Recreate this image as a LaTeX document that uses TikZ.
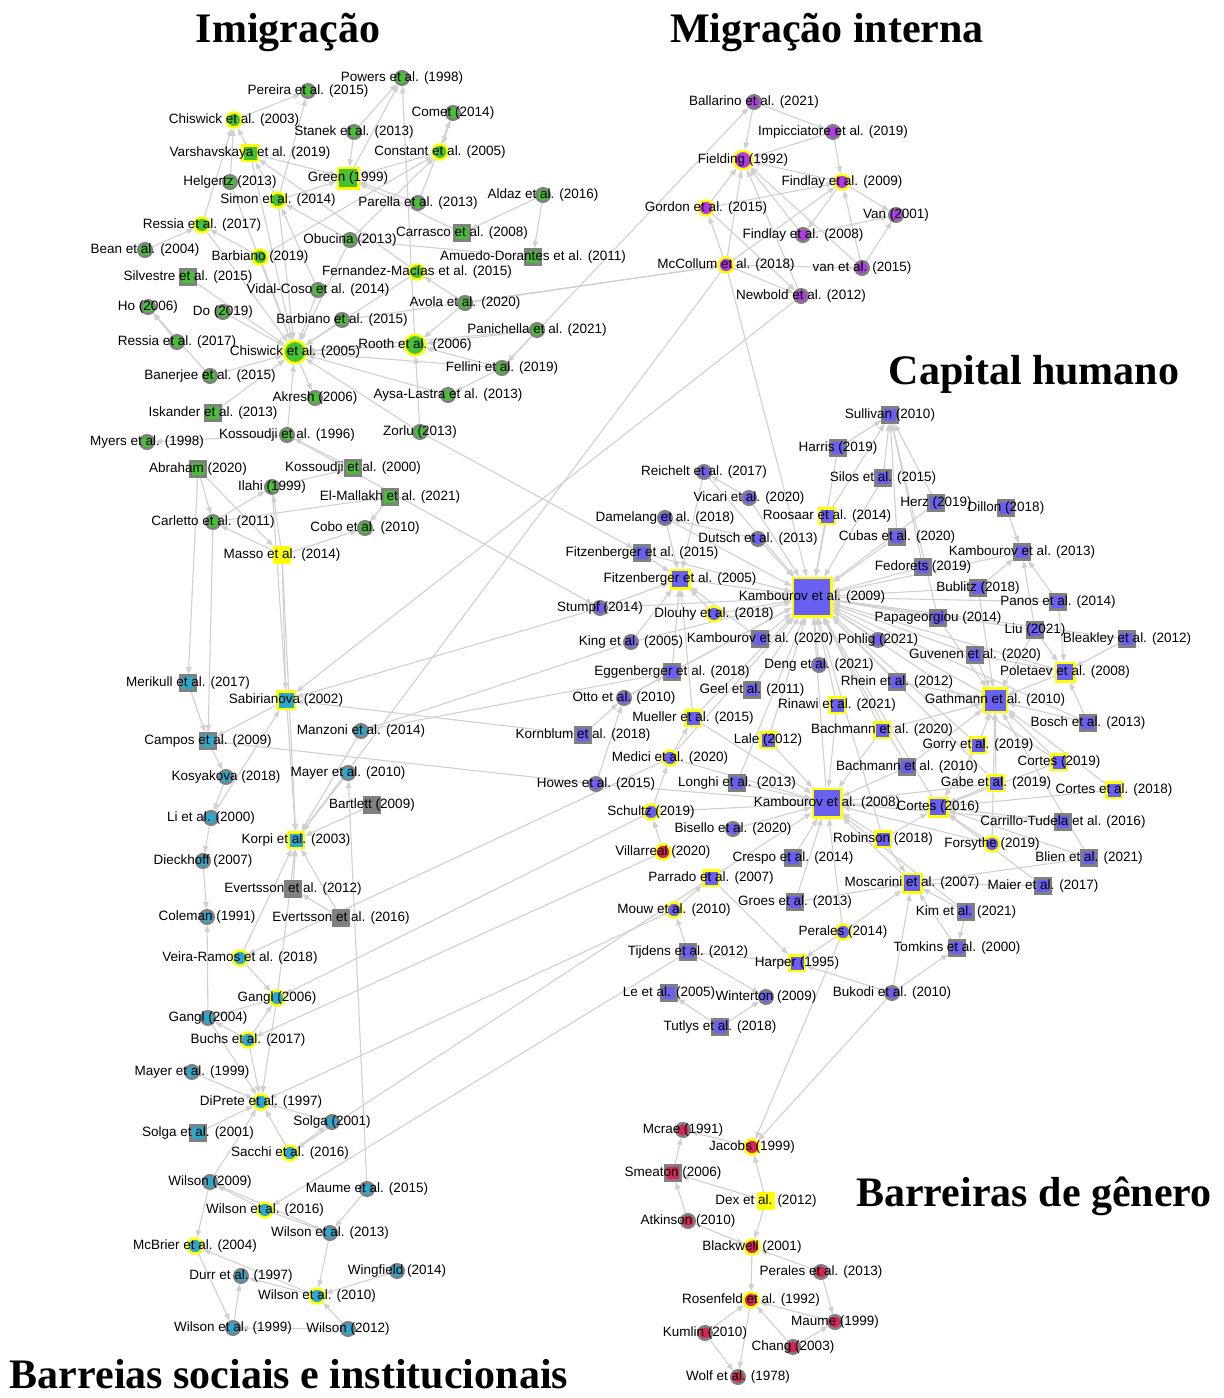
\documentclass[tikz,border=0pt]{standalone}
\usepackage{fontspec}
\newfontfamily\lblfont{Liberation Sans}
\newfontfamily\ttlfont{Liberation Serif}
\usetikzlibrary{arrows.meta}
\pgfdeclarelayer{bg}\pgfdeclarelayer{fg}\pgfsetlayers{bg,main,fg}
\definecolor{cgreen}{RGB}{72,192,52}
\definecolor{cpurp}{RGB}{178,58,230}
\definecolor{cblue}{RGB}{105,95,240}
\definecolor{ccrim}{RGB}{215,35,85}
\definecolor{ccyan}{RGB}{45,168,205}
\definecolor{bgray}{RGB}{128,128,128}
\definecolor{byel}{RGB}{255,255,0}
\definecolor{edgec}{RGB}{208,208,208}
\tikzset{
  mkfill/.style={},
  mk/.style={inner sep=0pt, line width=1.25pt, mkfill},
  sz/.style={minimum size=#1},
  cg/.style={circle, draw=bgray, minimum size=6.75pt},
  cy/.style={circle, draw=byel, minimum size=7.5pt},
  sg/.style={rectangle, draw=bgray, minimum size=7.5pt},
  sy/.style={rectangle, draw=byel, minimum size=7.75pt},
  lbl/.style={inner sep=0pt, font=\lblfont\fontsize{6.75}{8}\selectfont, text=black},
  ttl/.style={inner sep=0pt, anchor=base, font=\ttlfont\bfseries\fontsize{21}{25}\selectfont},
  edge/.style={draw=edgec, line width=0.55pt, -{Triangle[length=3.6pt,width=2.7pt]}}
}
\newcommand\nd[5]{\node[mk,#4] (#1) at (#2,#3) {};\begin{pgfonlayer}{fg}\node[lbl] (#1-l) at (#2,#3) {#5};\end{pgfonlayer}}
\begin{document}
\begin{tikzpicture}[x=0.5pt,y=-0.5pt]
\useasboundingbox (0,0) rectangle (1224,1398);
\begin{pgfonlayer}{bg}\fill[white] (0,0) rectangle (1224,1398);\end{pgfonlayer}
% titles
\node[ttl] (t1) at (288,42) {Imigração};
\node[ttl] (t2) at (827,42) {Migração interna};
\node[ttl] (t3) at (1034,384) {Capital humano};
\node[ttl] (t4) at (1034,1206) {Barreiras de gênero};
\node[ttl] (t5) at (289,1388) {Barreias sociais e institucionais};
% Imigracao
\begin{scope}[mkfill/.style={fill=cgreen}]
\nd{powers}{402}{78}{cg}{Powers et al. (1998)}
\nd{pereira}{308}{91}{cg}{Pereira et al. (2015)}
\nd{chis03}{234}{120}{cy}{Chiswick et al. (2003)}
\nd{stanek}{354}{132}{cg}{Stanek et al. (2013)}
\nd{comet}{453}{113}{cg}{Comet (2014)}
\nd{varsh}{250}{153}{sy}{Varshavskaya et al. (2019)}
\nd{constant}{440}{152}{cy}{Constant et al. (2005)}
\nd{helgertz}{230}{182}{cg}{Helgertz (2013)}
\nd{green}{348}{178}{sy,sz=10.25pt}{Green (1999)}
\nd{simon}{278}{200}{cy}{Simon et al. (2014)}
\nd{parella}{418}{203}{cg}{Parella et al. (2013)}
\nd{aldaz}{543}{195}{cg}{Aldaz et al. (2016)}
\nd{ressia}{202}{225}{cy}{Ressia et al. (2017)}
\nd{obucina}{350}{240}{cg}{Obucina (2013)}
\nd{carrasco}{462}{233}{sg}{Carrasco et al. (2008)}
\nd{bean}{145}{250}{cg}{Bean et al. (2004)}
\nd{barb19}{260}{257}{cy}{Barbiano (2019)}
\nd{amuedo}{533}{257}{sg}{Amuedo-Dorantes et al. (2011)}
\nd{silvestre}{188}{277}{sg}{Silvestre et al. (2015)}
\nd{fernandez}{417}{272}{cy}{Fernandez-Macías et al. (2015)}
\nd{vidal}{318}{290}{cg}{Vidal-Coso et al. (2014)}
\nd{ho}{148}{307}{cg}{Ho (2006)}
\nd{do}{223}{312}{cg}{Do (2019)}
\nd{avola}{465}{303}{cg}{Avola et al. (2020)}
\nd{barb15}{342}{320}{cg}{Barbiano et al. (2015)}
\nd{panichella}{537}{330}{cg}{Panichella et al. (2021)}
\nd{ressiab}{177}{342}{cg}{Ressia et al. (2017)}
\nd{chis05}{295}{352}{cy,sz=11.25pt}{Chiswick et al. (2005)}
\nd{rooth}{415}{345}{cy,sz=10.25pt}{Rooth et al. (2006)}
\nd{banerjee}{210}{376}{cg}{Banerjee et al. (2015)}
\nd{fellini}{502}{368}{cg}{Fellini et al. (2019)}
\nd{akresh}{315}{398}{cg}{Akresh (2006)}
\nd{aysa}{448}{395}{cg}{Aysa-Lastra et al. (2013)}
\nd{iskander}{213}{413}{sg}{Iskander et al. (2013)}
\nd{zorlu}{420}{432}{cg}{Zorlu (2013)}
\nd{myers}{147}{442}{cg}{Myers et al. (1998)}
\nd{koss96}{287}{435}{cg}{Kossoudji et al. (1996)}
\nd{abraham}{198}{469}{sg}{Abraham (2020)}
\nd{koss00}{353}{468}{sg}{Kossoudji et al. (2000)}
\nd{ilahi}{272}{487}{cg}{Ilahi (1999)}
\nd{elmallakh}{390}{497}{sg}{El-Mallakh et al. (2021)}
\nd{carletto}{213}{522}{cg}{Carletto et al. (2011)}
\nd{cobo}{365}{528}{cg}{Cobo et al. (2010)}
\nd{masso}{282}{555}{sy,fill=byel}{Masso et al. (2014)}
\end{scope}
% Migracao interna
\begin{scope}[mkfill/.style={fill=cpurp}]
\nd{ballarino}{754}{102}{cg}{Ballarino et al. (2021)}
\nd{impic}{833}{132}{cg}{Impicciatore et al. (2019)}
\nd{fielding}{743}{160}{cy,sz=9.25pt}{Fielding (1992)}
\nd{findlay09}{842}{182}{cy}{Findlay et al. (2009)}
\nd{gordon}{706}{208}{cy}{Gordon et al. (2015)}
\nd{van01}{896}{215}{cg}{Van (2001)}
\nd{findlay08}{803}{235}{cg}{Findlay et al. (2008)}
\nd{mccollum}{726}{265}{cy}{McCollum et al. (2018)}
\nd{vanet}{862}{268}{cg}{van et al. (2015)}
\nd{newbold}{801}{296}{cg}{Newbold et al. (2012)}
\end{scope}
% Capital humano
\begin{scope}[mkfill/.style={fill=cblue}]
\nd{sullivan}{890}{415}{sg}{Sullivan (2010)}
\nd{harris}{838}{448}{sg}{Harris (2019)}
\nd{reichelt}{704}{472}{cg}{Reichelt et al. (2017)}
\nd{silos}{883}{478}{sg}{Silos et al. (2015)}
\nd{vicari}{749}{498}{cg}{Vicari et al. (2020)}
\nd{herz}{936}{503}{sg}{Herz (2019)}
\nd{dillon}{1006}{508}{sg}{Dillon (2018)}
\nd{roosaar}{827}{516}{sy}{Roosaar et al. (2014)}
\nd{damelang}{665}{518}{cg}{Damelang et al. (2018)}
\nd{dutsch}{758}{539}{cg}{Dutsch et al. (2013)}
\nd{cubas}{897}{537}{sg}{Cubas et al. (2020)}
\nd{kamb13}{1022}{552}{sg}{Kambourov et al. (2013)}
\nd{fitz15}{642}{553}{sg}{Fitzenberger et al. (2015)}
\nd{fedorets}{923}{567}{sg}{Fedorets (2019)}
\nd{fitz05}{680}{579}{sy,sz=9.25pt}{Fitzenberger et al. (2005)}
\nd{kamb09}{812}{597}{sy,sz=19.25pt}{Kambourov et al. (2009)}
\nd{bublitz}{978}{588}{sg}{Bublitz (2018)}
\nd{panos}{1058}{602}{sg}{Panos et al. (2014)}
\nd{stumpf}{600}{608}{cg}{Stumpf (2014)}
\nd{dlouhy}{714}{614}{cy}{Dlouhy et al. (2018)}
\nd{papa}{938}{618}{sg}{Papageorgiou (2014)}
\nd{liu}{1035}{630}{sg}{Liu (2021)}
\nd{bleakley}{1127}{639}{sg}{Bleakley et al. (2012)}
\nd{king}{631}{642}{cg}{King et al. (2005)}
\nd{kamb20}{760}{639}{sg}{Kambourov et al. (2020)}
\nd{pohlig}{878}{640}{cg}{Pohlig (2021)}
\nd{guvenen}{975}{655}{sg}{Guvenen et al. (2020)}
\nd{eggen}{672}{672}{sg}{Eggenberger et al. (2018)}
\nd{deng}{819}{665}{cg}{Deng et al. (2021)}
\nd{poletaev}{1065}{672}{sy,sz=9.25pt}{Poletaev et al. (2008)}
\nd{rhein}{897}{682}{sg}{Rhein et al. (2012)}
\nd{geel}{752}{690}{sg}{Geel et al. (2011)}
\nd{otto}{624}{698}{cg}{Otto et al. (2010)}
\nd{gathmann}{995}{700}{sy,sz=11.75pt}{Gathmann et al. (2010)}
\nd{rinawi}{837}{705}{sy}{Rinawi et al. (2021)}
\nd{mueller}{693}{718}{sy}{Mueller et al. (2015)}
\nd{bosch}{1088}{723}{sg}{Bosch et al. (2013)}
\nd{kornblum}{583}{735}{sg}{Kornblum et al. (2018)}
\nd{bach20}{882}{730}{sy}{Bachmann et al. (2020)}
\nd{lale}{768}{740}{sy}{Lale (2012)}
\nd{gorry}{978}{745}{sy}{Gorry et al. (2019)}
\nd{medici}{670}{758}{cy}{Medici et al. (2020)}
\nd{bach10}{907}{767}{sg}{Bachmann et al. (2010)}
\nd{cortes19}{1059}{762}{sy}{Cortes (2019)}
\nd{howes}{596}{784}{cg}{Howes et al. (2015)}
\nd{longhi}{737}{783}{sg}{Longhi et al. (2013)}
\nd{gabe}{996}{783}{sy}{Gabe et al. (2019)}
\nd{kamb08}{827}{803}{sy,sz=14.25pt}{Kambourov et al. (2008)}
\nd{cortes16}{938}{807}{sy,sz=9.25pt}{Cortes (2016)}
\nd{cortes18}{1114}{790}{sy}{Cortes et al. (2018)}
\nd{schultz}{651}{812}{cy}{Schultz (2019)}
\nd{carrillo}{1063}{822}{sg}{Carrillo-Tudela et al. (2016)}
\nd{bisello}{733}{829}{cg}{Bisello et al. (2020)}
\nd{robinson}{883}{839}{sy}{Robinson (2018)}
\nd{forsythe}{992}{844}{cy}{Forsythe (2019)}
\nd{villarreal}{663}{852}{cy,fill=ccrim}{Villarreal (2020)}
\nd{crespo}{793}{858}{sg}{Crespo et al. (2014)}
\nd{blien}{1089}{858}{sg}{Blien et al. (2021)}
\nd{parrado}{711}{878}{sy}{Parrado et al. (2007)}
\nd{moscarini}{912}{883}{sy,sz=9.25pt}{Moscarini et al. (2007)}
\nd{maier}{1043}{886}{sg}{Maier et al. (2017)}
\nd{groes}{795}{902}{sg}{Groes et al. (2013)}
\nd{mouw}{674}{910}{cy}{Mouw et al. (2010)}
\nd{kim}{966}{912}{sg}{Kim et al. (2021)}
\nd{perales14}{843}{932}{cy}{Perales (2014)}
\nd{tomkins}{957}{948}{sg}{Tomkins et al. (2000)}
\nd{tijdens}{688}{952}{sg}{Tijdens et al. (2012)}
\nd{harper}{797}{963}{sy}{Harper (1995)}
\nd{le}{669}{993}{sg}{Le et al. (2005)}
\nd{winterton}{766}{997}{cg}{Winterton (2009)}
\nd{bukodi}{892}{993}{cg}{Bukodi et al. (2010)}
\nd{tutlys}{720}{1027}{sg}{Tutlys et al. (2018)}
\end{scope}
% Barreiras de genero
\begin{scope}[mkfill/.style={fill=ccrim}]
\nd{mcrae}{683}{1130}{cg}{Mcrae (1991)}
\nd{jacobs}{752}{1147}{cy}{Jacobs (1999)}
\nd{smeaton}{673}{1173}{sg}{Smeaton (2006)}
\nd{dex}{766}{1201}{sy,fill=byel}{Dex et al. (2012)}
\nd{atkinson}{688}{1221}{cg}{Atkinson (2010)}
\nd{blackwell}{752}{1247}{cy}{Blackwell (2001)}
\nd{perales13}{821}{1272}{cg}{Perales et al. (2013)}
\nd{rosenfeld}{751}{1300}{cy}{Rosenfeld et al. (1992)}
\nd{maume99}{835}{1322}{cg}{Maume (1999)}
\nd{kumlin}{705}{1333}{cg}{Kumlin (2010)}
\nd{chang}{793}{1347}{cg}{Chang (2003)}
\nd{wolf}{738}{1377}{cg}{Wolf et al. (1978)}
\end{scope}
% Barreiras sociais
\begin{scope}[mkfill/.style={fill=ccyan}]
\nd{merikull}{188}{683}{sg}{Merikull et al. (2017)}
\nd{sabir}{286}{700}{sy,sz=8.75pt}{Sabirianova (2002)}
\nd{manzoni}{361}{731}{cg}{Manzoni et al. (2014)}
\nd{campos}{208}{741}{sg}{Campos et al. (2009)}
\nd{kosyakova}{226}{777}{cg}{Kosyakova (2018)}
\nd{mayer10}{348}{773}{cg}{Mayer et al. (2010)}
\nd{bartlett}{372}{805}{sg,fill=bgray}{Bartlett (2009)}
\nd{li}{211}{818}{cg}{Li et al. (2000)}
\nd{korpi}{296}{840}{sy}{Korpi et al. (2003)}
\nd{dieckhoff}{203}{861}{cg}{Dieckhoff (2007)}
\nd{evert12}{293}{889}{sg,fill=bgray}{Evertsson et al. (2012)}
\nd{coleman}{207}{917}{cg}{Coleman (1991)}
\nd{evert16}{341}{918}{sg,fill=bgray}{Evertsson et al. (2016)}
\nd{veira}{240}{958}{cy}{Veira-Ramos et al. (2018)}
\nd{gangl06}{277}{998}{cy}{Gangl (2006)}
\nd{gangl04}{208}{1018}{cg}{Gangl (2004)}
\nd{buchs}{248}{1040}{cy}{Buchs et al. (2017)}
\nd{mayer99}{192}{1072}{cg}{Mayer et al. (1999)}
\nd{dipreete}{261}{1102}{cy}{DiPrete et al. (1997)}
\nd{solga}{332}{1122}{cg}{Solga (2001)}
\nd{solgaet}{198}{1133}{sg}{Solga et al. (2001)}
\nd{sacchi}{290}{1153}{cy}{Sacchi et al. (2016)}
\nd{wilson09}{210}{1182}{cg}{Wilson (2009)}
\nd{maume15}{367}{1189}{cg}{Maume et al. (2015)}
\nd{wilson16}{265}{1210}{cy}{Wilson et al. (2016)}
\nd{wilson13}{330}{1233}{cg}{Wilson et al. (2013)}
\nd{mcbrier}{195}{1246}{cy}{McBrier et al. (2004)}
\nd{wingfield}{397}{1271}{cg}{Wingfield (2014)}
\nd{durr}{241}{1276}{cg}{Durr et al. (1997)}
\nd{wilson10}{317}{1296}{cy}{Wilson et al. (2010)}
\nd{wilson99}{233}{1328}{cg}{Wilson et al. (1999)}
\nd{wilson12}{348}{1329}{cg}{Wilson (2012)}
\end{scope}
% edges
\begin{pgfonlayer}{bg}
\foreach \a/\b in {chis03/pereira,simon/pereira,stanek/powers,green/powers,rooth/powers,comet/constant,parella/comet,constant/green,stanek/green,varsh/green,varsh/chis03,helgertz/chis03,ressia/chis03,simon/varsh,simon/green,parella/green,obucina/constant,barb19/constant,aldaz/carrasco,aldaz/amuedo,carrasco/green,panichella/chis05,simon/chis05,varsh/chis05,ressia/chis05,silvestre/chis05,do/chis05,barb15/chis05,vidal/chis05,fernandez/chis05,rooth/chis05,banerjee/chis05,fellini/chis05,aysa/chis05,zorlu/chis05,koss96/chis05,obucina/chis05,barb19/chis05,helgertz/chis05,chis05/akresh,fellini/rooth,panichella/rooth,avola/rooth,zorlu/rooth,panichella/fellini,fellini/aysa,banerjee/ho,ressiab/ho,barb19/ressia,bean/ressia,iskander/chis05,koss96/myers,koss00/koss96,abraham/carletto,abraham/masso,carletto/ilahi,carletto/elmallakh,masso/carletto,masso/cobo,masso/ilahi,elmallakh/cobo,ilahi/koss00,vidal/simon,fernandez/varsh,obucina/simon,avola/fernandez,amuedo/obucina}
  {\draw[edge] (\a) -- (\b);}
\foreach \a/\b in {fellini/ballarino,barb15/mccollum,avola/mccollum,zorlu/fitz15,koss96/stumpf,mccollum/kamb09,mccollum/korpi,newbold/sabir,masso/sabir,masso/korpi,carletto/campos,abraham/merikull,ilahi/korpi,
  ballarino/fielding,ballarino/impic,impic/fielding,impic/findlay09,findlay09/fielding,findlay09/van01,findlay09/findlay08,gordon/fielding,gordon/findlay09,gordon/newbold,mccollum/gordon,mccollum/fielding,mccollum/findlay09,findlay08/fielding,findlay08/van01,newbold/fielding,vanet/fielding,vanet/findlay09,vanet/van01,mccollum/vanet,mccollum/newbold}
  {\draw[edge] (\a) -- (\b);}
\foreach \a in {reichelt,vicari,damelang,dutsch,roosaar,cubas,fedorets,fitz15,fitz05,bublitz,panos,dlouhy,papa,liu,king,kamb20,pohlig,guvenen,eggen,deng,poletaev,rhein,geel,gathmann,rinawi,mueller,bach20,lale,gorry,bach10,longhi,kamb08,cortes16,kamb13,harris,silos,herz,stumpf,otto,medici,bleakley,bosch,gabe,robinson,cortes19}
  {\draw[edge] (\a) -- (kamb09);}
\foreach \a in {longhi,bisello,crespo,groes,parrado,robinson,cortes16,gabe,forsythe,schultz,medici,lale,bach10,kim,carrillo,moscarini,mueller,rinawi,bach20,howes,perales14}
  {\draw[edge] (\a) -- (kamb08);}
\foreach \a in {poletaev,gorry,gabe,bosch,cortes19,rhein,guvenen,bach20,bach10,liu,cortes18,forsythe,blien,papa,bublitz}
  {\draw[edge] (\a) -- (gathmann);}
\foreach \a/\b in {panos/poletaev,bleakley/poletaev,liu/poletaev,bosch/poletaev,guvenen/poletaev,groes/moscarini,maier/moscarini,kim/moscarini,robinson/moscarini,blien/moscarini,tomkins/moscarini,perales14/moscarini,gabe/cortes16,cortes19/cortes16,cortes18/cortes16,carrillo/cortes16,forsythe/cortes16,robinson/cortes16,blien/cortes16,maier/cortes16,gorry/cortes16,harris/sullivan,silos/sullivan,roosaar/sullivan,cubas/sullivan,papa/sullivan,fedorets/sullivan,herz/sullivan,stumpf/fitz05,dlouhy/fitz05,eggen/fitz05,king/fitz05,fitz15/fitz05,kamb20/fitz05,damelang/fitz05,mueller/fitz05,reichelt/fitz05,dillon/kamb13,bublitz/kamb13,panos/kamb13,liu/kamb13,vicari/reichelt,dutsch/damelang,parrado/harper,tijdens/harper,perales14/harper,bukodi/harper,tijdens/mouw,tutlys/le,tutlys/winterton,tijdens/winterton,bukodi/tomkins,kim/tomkins,mouw/parrado,medici/mueller,schultz/medici,villarreal/schultz,howes/otto,kornblum/otto,otto/eggen,bukodi/moscarini}
  {\draw[edge] (\a) -- (\b);}
\foreach \a/\b in {stumpf/sabir,king/manzoni,eggen/manzoni,kornblum/sabir,howes/campos,schultz/gangl06,villarreal/buchs,medici/veira,mouw/dipreete,parrado/sacchi,tijdens/wilson16,perales14/jacobs,bukodi/jacobs,
  jacobs/mcrae,dex/smeaton,dex/jacobs,dex/blackwell,atkinson/smeaton,smeaton/mcrae,atkinson/blackwell,perales13/blackwell,perales13/maume99,blackwell/rosenfeld,maume99/rosenfeld,chang/rosenfeld,chang/maume99,kumlin/rosenfeld,kumlin/wolf,rosenfeld/wolf}
  {\draw[edge] (\a) -- (\b);}
\foreach \a/\b in {sabir/campos,merikull/campos,campos/kosyakova,kosyakova/li,li/dieckhoff,dieckhoff/coleman,mayer10/korpi,manzoni/korpi,bartlett/korpi,evert12/korpi,evert16/korpi,evert16/evert12,veira/gangl06,buchs/gangl06,buchs/gangl04,gangl06/gangl04,gangl04/dipreete,gangl06/dipreete,solga/dipreete,sacchi/dipreete,mayer99/dipreete,solgaet/dipreete,wilson09/dipreete,buchs/dipreete,sacchi/solga,wilson16/wilson09,wilson13/wilson09,maume15/wilson13,wilson16/wilson13,mcbrier/wilson99,wilson10/mcbrier,wilson10/durr,wingfield/wilson10,wilson12/wilson10,wilson12/wilson99,wilson13/wilson10,wilson99/durr,wilson09/mcbrier,gangl04/coleman,veira/korpi,maume15/mayer10,gangl06/korpi,li/sabir}
  {\draw[edge] (\a) -- (\b);}
\end{pgfonlayer}
\end{tikzpicture}
\end{document}
